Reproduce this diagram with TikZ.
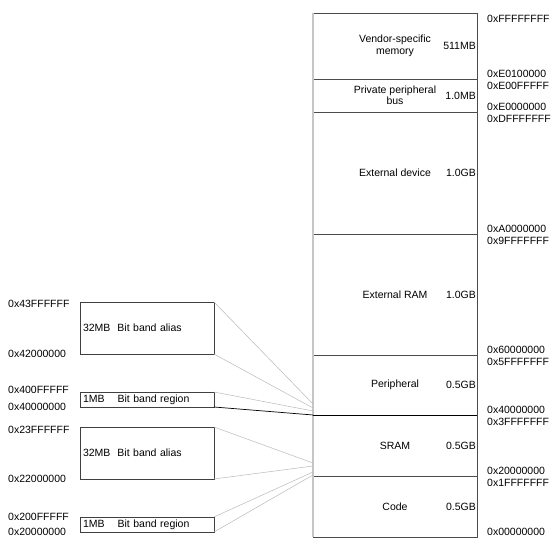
\documentclass[tikz,border=0pt]{standalone}
\usepackage{fontspec}
\setmainfont{Liberation Sans}
\usetikzlibrary{calc,positioning}
\newcommand{\mapfont}{\fontsize{10.5}{11.5}\selectfont}
\tikzset{
  region/.style={
    draw=black!70,
    line width=0.8pt,
    minimum width=164pt,
    inner sep=0pt,
    outer sep=0pt,
    align=center,
    font=\mapfont
  },
  size/.style={
    inner sep=0pt,
    font=\mapfont
  },
  addr/.style={
    anchor=west,
    inner sep=0pt,
    font=\mapfont
  },
  band/.style={
    draw=black!75,
    line width=0.7pt,
    text width=128pt,
    inner xsep=3pt,
    inner ysep=0pt,
    outer sep=0pt,
    align=left,
    font=\mapfont
  },
  link/.style={
    gray!55,
    line width=0.5pt
  }
}

\begin{document}
\begin{tikzpicture}[x=1pt,y=1pt]
\useasboundingbox (0,0) rectangle (558,549);
% memory map column
\node[region,minimum height=66pt,anchor=north west] (vendor) at (313,536) {Vendor-specific\\memory};
\node[region,minimum height=33pt,below=0pt of vendor] (ppb) {Private peripheral\\bus};
\node[region,minimum height=122pt,below=0pt of ppb] (extdev) {External device};
\node[region,minimum height=121pt,below=0pt of extdev] (extram) {External RAM};
\node[region,minimum height=60pt,below=0pt of extram] (periph) {Peripheral};
\node[region,minimum height=61pt,below=0pt of periph] (sram) {SRAM};
\node[region,minimum height=61pt,below=0pt of sram] (code) {Code};
\draw[gray!45,line width=1.8pt] (vendor.north west) -- (code.south west);
\draw[black,line width=0.8pt] (periph.south west) -- (periph.south east);

\node[size,left=1pt of vendor.east] (svendor) {511MB};
\node[size,left=1pt of ppb.east] (sppb) {1.0MB};
\node[size,left=1pt of extdev.east] (sextdev) {1.0GB};
\node[size,left=1pt of extram.east] (sextram) {1.0GB};
\node[size,left=1pt of periph.east] (speriph) {0.5GB};
\node[size,left=1pt of sram.east] (ssram) {0.5GB};
\node[size,left=1pt of code.east] (scode) {0.5GB};

% addresses on the right
\node[addr] (aff) at ($(vendor.north east)+(10,-6)$) {0xFFFFFFFF};
\node[addr] (ae01) at ($(vendor.south east)+(10,5)$) {0xE0100000};
\node[addr] (ae00f) at ($(ppb.north east)+(10,-7)$) {0xE00FFFFF};
\node[addr] (ae00) at ($(ppb.south east)+(10,5)$) {0xE0000000};
\node[addr] (adf) at ($(extdev.north east)+(10,-7)$) {0xDFFFFFFF};
\node[addr] (aa0) at ($(extdev.south east)+(10,5)$) {0xA0000000};
\node[addr] (a9f) at ($(extram.north east)+(10,-7)$) {0x9FFFFFFF};
\node[addr] (a60) at ($(extram.south east)+(10,5)$) {0x60000000};
\node[addr] (a5f) at ($(periph.north east)+(10,-7)$) {0x5FFFFFFF};
\node[addr] (a40) at ($(periph.south east)+(10,5)$) {0x40000000};
\node[addr] (a3f) at ($(sram.north east)+(10,-7)$) {0x3FFFFFFF};
\node[addr] (a20) at ($(sram.south east)+(10,5)$) {0x20000000};
\node[addr] (a1f) at ($(code.north east)+(10,-7)$) {0x1FFFFFFF};
\node[addr] (a00) at ($(code.south east)+(10,5)$) {0x00000000};

% bit band boxes
\node[band,minimum height=52pt] (palias) at (147,221) {32MB\hspace{7pt}Bit band alias};
\node[band,minimum height=15pt] (pband) at (147,149.5) {1MB\hspace{13pt}Bit band region};
\node[band,minimum height=52pt] (salias) at (147,96) {32MB\hspace{7pt}Bit band alias};
\node[band,minimum height=15pt] (sband) at (147,24.5) {1MB\hspace{13pt}Bit band region};

\node[addr] (l43f) at (8,245) {0x43FFFFFF};
\node[addr] (l42) at (8,195) {0x42000000};
\node[addr] (l40f) at (8,159) {0x400FFFFF};
\node[addr] (l40) at (8,142) {0x40000000};
\node[addr] (l23f) at (8,119) {0x23FFFFFF};
\node[addr] (l22) at (8,70) {0x22000000};
\node[addr] (l20f) at (8,32) {0x200FFFFF};
\node[addr] (l20) at (8,17) {0x20000000};

% connectors into the map
\coordinate (p1) at ($(periph.south west)+(0,11)$);
\coordinate (p2) at ($(periph.south west)+(0,7)$);
\coordinate (p3) at ($(periph.south west)+(0,4)$);
\coordinate (s1) at ($(sram.south west)+(0,13)$);
\coordinate (s2) at ($(sram.south west)+(0,10)$);
\coordinate (s3) at ($(sram.south west)+(0,4)$);
\coordinate (s4) at ($(sram.south west)+(0,1)$);
\draw[link] (palias.north east) -- (p1);
\draw[link] (palias.south east) -- (p2);
\draw[link] (pband.north east) -- (p3);
\draw[black,line width=0.7pt] (pband.south east) -- (periph.south west);
\draw[link] (salias.north east) -- (s1);
\draw[link] (salias.south east) -- (s2);
\draw[link] (sband.north east) -- (s3);
\draw[link] (sband.south east) -- (s4);
\end{tikzpicture}
\end{document}
